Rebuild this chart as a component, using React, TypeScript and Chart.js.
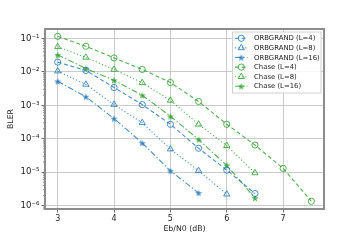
import React, { useEffect, useRef } from "react";
import { Chart, registerables } from "chart.js";

Chart.register(...registerables);

const snr = [3, 3.5, 4, 4.5, 5, 5.5, 6, 6.5, 7, 7.5];

const orbL4 = [0.0195, 0.011, 0.0034, 0.00105, 2.7e-4, 5.2e-5, 1.15e-5, 2.3e-6];
const orbL8 = [0.0105, 0.0042, 0.00105, 3.0e-4, 4.9e-5, 1.1e-5, 2.2e-6];
const orbL16 = [0.0052, 0.0018, 4.0e-4, 7.5e-5, 1.1e-5, 2.4e-6];
const chaseL4 = [0.115, 0.058, 0.026, 0.0118, 0.0048, 0.0013, 2.7e-4, 6.5e-5, 1.3e-5, 1.35e-6];
const chaseL8 = [0.056, 0.027, 0.0118, 0.0047, 0.0014, 2.7e-4, 6.2e-5, 9.5e-6];
const chaseL16 = [0.032, 0.0126, 0.0056, 0.002, 4.7e-4, 9.5e-5, 1.6e-5, 1.7e-6];

const seriesLabels = [
  "ORBGRAND (L=4)",
  "ORBGRAND (L=8)",
  "ORBGRAND (L=16)",
  "Chase (L=4)",
  "Chase (L=8)",
  "Chase (L=16)",
];
const xTicks = [3, 4, 5, 6, 7];
const yTicks = [1e-6, 1e-5, 1e-4, 1e-3, 1e-2, 1e-1];
const yTickLabels = ["10⁻⁶", "10⁻⁵", "10⁻⁴", "10⁻³", "10⁻²", "10⁻¹"];

const BLUE = "rgba(31,119,180,0.82)";
const GREEN = "rgba(44,160,44,0.82)";
const FONT = "'DejaVu Sans', sans-serif";

const DASHED = [4, 2.6];
const DOTTED = [1.2, 2.2];
const DASHDOT = [6, 2.2, 1.3, 2.2];

function starCanvas(color: string, size: number) {
  const c = document.createElement("canvas");
  c.width = size;
  c.height = size;
  const ctx = c.getContext("2d")!;
  const cx = size / 2, cy = size / 2 + 0.4;
  const ro = size / 2 - 0.3, ri = ro * 0.42;
  ctx.beginPath();
  for (let i = 0; i < 10; i++) {
    const r = i % 2 === 0 ? ro : ri;
    const a = -Math.PI / 2 + (i * Math.PI) / 5;
    const x = cx + r * Math.cos(a), y = cy + r * Math.sin(a);
    if (i === 0) ctx.moveTo(x, y);
    else ctx.lineTo(x, y);
  }
  ctx.closePath();
  ctx.fillStyle = color;
  ctx.fill();
  return c;
}

function drawMarker(ctx: CanvasRenderingContext2D, style: string, x: number, y: number, color: string, star: HTMLCanvasElement) {
  ctx.save();
  ctx.setLineDash([]);
  ctx.strokeStyle = color;
  ctx.lineWidth = 1;
  if (style === "circle") {
    ctx.beginPath();
    ctx.arc(x, y, 3.1, 0, Math.PI * 2);
    ctx.stroke();
  } else if (style === "triangle") {
    const r = 3.6;
    ctx.beginPath();
    ctx.moveTo(x, y - r);
    ctx.lineTo(x + r * 0.87, y + r * 0.5);
    ctx.lineTo(x - r * 0.87, y + r * 0.5);
    ctx.closePath();
    ctx.stroke();
  } else {
    ctx.drawImage(star, x - star.width / 2, y - star.height / 2);
  }
  ctx.restore();
}

export default function App() {
  const ref = useRef<HTMLCanvasElement>(null);

  useEffect(() => {
    if (!ref.current) return;
    const blueStar = starCanvas(BLUE, 8);
    const greenStar = starCanvas(GREEN, 8);
    const series = [orbL4, orbL8, orbL16, chaseL4, chaseL8, chaseL16];
    const dashes = [DASHED, DOTTED, DASHDOT, DASHED, DOTTED, DASHDOT];
    const styles = ["circle", "triangle", "star", "circle", "triangle", "star"];

    const datasets = series.map((vals, i) => {
      const color = i < 3 ? BLUE : GREEN;
      const star = i < 3 ? blueStar : greenStar;
      return {
        label: seriesLabels[i],
        data: vals.map((v, j) => ({ x: snr[j], y: v })),
        borderColor: color,
        backgroundColor: "rgba(0,0,0,0)",
        borderWidth: 1.1,
        borderDash: dashes[i],
        pointStyle: styles[i] === "star" ? (star as any) : styles[i],
        pointRadius: styles[i] === "triangle" ? 3.6 : 3.1,
        pointBorderWidth: 1,
        pointBorderColor: color,
        pointBackgroundColor: "rgba(0,0,0,0)",
        tension: 0,
      };
    });

    const framePlugin = {
      id: "frame",
      afterDraw(chart: any) {
        const { ctx, chartArea: a } = chart;
        const y = chart.scales.y;
        ctx.save();
        // minor ticks on y
        ctx.strokeStyle = "#444";
        ctx.lineWidth = 0.6;
        for (let e = -7; e <= 0; e++) {
          for (let m = 2; m <= 9; m++) {
            const v = m * Math.pow(10, e);
            const py = y.getPixelForValue(v);
            if (py < a.top || py > a.bottom) continue;
            ctx.beginPath();
            ctx.moveTo(a.left - 2, py);
            ctx.lineTo(a.left, py);
            ctx.stroke();
          }
        }
        // frame
        ctx.strokeStyle = "#8c8c8c";
        ctx.lineWidth = 2;
        ctx.strokeRect(a.left, a.top, a.right - a.left, a.bottom - a.top);
        // titles
        ctx.fillStyle = "#222";
        ctx.font = `7.8px ${FONT}`;
        ctx.textAlign = "center";
        ctx.textBaseline = "middle";
        ctx.fillText("Eb/N0 (dB)", (a.left + a.right) / 2, 229);
        ctx.save();
        ctx.translate(11, (a.top + a.bottom) / 2);
        ctx.rotate(-Math.PI / 2);
        ctx.fillText("BLER", 0, 0);
        ctx.restore();
        // legend
        const lx = 232.5, ly = 32, lw = 88.5, lh = 61;
        ctx.fillStyle = "rgba(255,255,255,0.85)";
        ctx.strokeStyle = "#d0d0d0";
        ctx.lineWidth = 1;
        ctx.beginPath();
        ctx.rect(lx, ly, lw, lh);
        ctx.fill();
        ctx.stroke();
        ctx.font = `6.9px ${FONT}`;
        ctx.textAlign = "left";
        for (let i = 0; i < 6; i++) {
          const ry = 38.3 + i * 9.6;
          const color = i < 3 ? BLUE : GREEN;
          ctx.strokeStyle = color;
          ctx.lineWidth = 1.1;
          ctx.setLineDash(dashes[i]);
          ctx.beginPath();
          ctx.moveTo(235, ry);
          ctx.lineTo(247.5, ry);
          ctx.stroke();
          ctx.setLineDash([]);
          drawMarker(ctx, styles[i], 241.3, ry, color, i < 3 ? blueStar : greenStar);
          ctx.fillStyle = "#222";
          ctx.fillText(seriesLabels[i], 254, ry + 0.3);
        }
        ctx.restore();
      },
    };

    const gridOpts = {
      color: "#bdbdbd",
      lineWidth: 0.8,
      borderDash: [3, 2.5],
      tickColor: "#444",
      tickLength: 3.5,
      tickBorderDash: [],
      tickWidth: 0.8,
    } as any;

    const chart = new Chart(ref.current, {
      type: "line",
      data: { datasets: datasets as any },
      options: {
        animation: false,
        responsive: false,
        layout: { padding: { left: 0, top: 29, right: 36, bottom: 0 } },
        plugins: { legend: { display: false }, tooltip: { enabled: false } },
        scales: {
          x: {
            type: "linear",
            min: 2.775,
            max: 7.725,
            afterBuildTicks: (s: any) => {
              s.ticks = xTicks.map((v) => ({ value: v }));
            },
            afterFit: (s: any) => {
              s.height = 31;
            },
            ticks: {
              color: "#222",
              font: { family: FONT, size: 8 },
              padding: 2,
              maxRotation: 0,
              callback: (v: any) => String(v),
            },
            grid: gridOpts,
            border: { display: false },
          },
          y: {
            type: "logarithmic",
            min: Math.pow(10, -6.1),
            max: Math.pow(10, -0.72),
            afterBuildTicks: (s: any) => {
              s.ticks = yTicks.map((v) => ({ value: v }));
            },
            afterFit: (s: any) => {
              s.width = 45;
            },
            ticks: {
              color: "#222",
              font: { family: FONT, size: 8.6 },
              padding: 2,
              callback: (v: any) => {
                const idx = yTicks.findIndex((t) => Math.abs(Math.log10(t) - Math.log10(v)) < 1e-6);
                return idx >= 0 ? yTickLabels[idx] : "";
              },
            },
            grid: gridOpts,
            border: { display: false },
          },
        },
      },
      plugins: [framePlugin],
    });
    return () => chart.destroy();
  }, []);

  return (
    <div style={{ position: "fixed", left: 0, top: 0, width: 360, height: 240, background: "#fff" }}>
      <canvas ref={ref} width={360} height={240} style={{ width: 360, height: 240, display: "block" }} />
    </div>
  );
}
